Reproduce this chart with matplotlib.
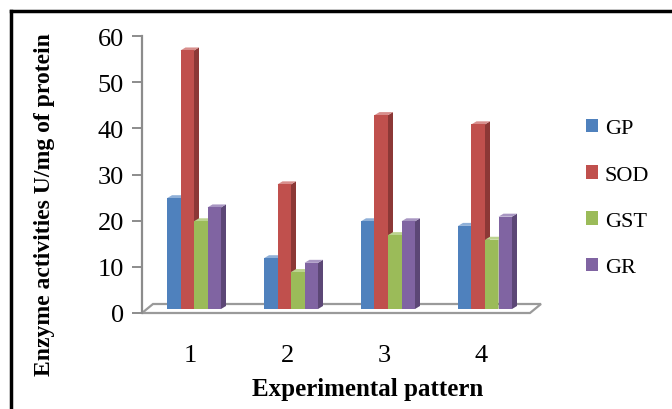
import matplotlib
matplotlib.use("Agg")
import matplotlib.pyplot as plt
from matplotlib.lines import Line2D
from matplotlib.patches import Patch

categories = ["1", "2", "3", "4"]
series = ["GP", "SOD", "GST", "GR"]
gp = [24, 11, 19, 18]
sod = [56, 27, 42, 40]
gst = [19, 8, 16, 15]
gr = [22, 10, 19, 20]
values = [gp, sod, gst, gr]

front = ["#4F81BD", "#C0504D", "#9BBB59", "#8064A2"]
side = ["#385D8A", "#8C3836", "#71893F", "#5C4776"]
top = ["#8FB0D8", "#D88E8C", "#BCD38F", "#A896C2"]

W, H = 672, 410
ax_l, ax_r, ax_b, ax_t = 142, 530, 314, 37
ymax = 60
px_x = (ax_r - ax_l) / len(categories)   # pixels per x unit
px_y = (ax_b - ax_t) / ymax               # pixels per y unit

plt.rcParams["font.family"] = ["Liberation Serif", "DejaVu Serif"]

fig = plt.figure(figsize=(W / 100, H / 100), dpi=100)
ax = fig.add_axes([ax_l / W, 1 - ax_b / H, (ax_r - ax_l) / W, (ax_b - ax_t) / H])
ax.set_xlim(0.5, len(categories) + 0.5)
ax.set_ylim(0, ymax)

# 3d-ish floor
fdx, fdy = 11 / px_x, 9 / px_y
ax.fill([0.5, 4.5, 4.5 + fdx, 0.5 + fdx], [0, 0, fdy, fdy], facecolor="white",
        edgecolor="#9a9a9a", lw=1.6, zorder=1, clip_on=False)

# bars with side and top faces
bw = 13.5 / px_x
bdx, bdy = 5 / px_x, 3 / px_y
xshift, base = 3.5 / px_x, 4 / px_y
pos = range(1, len(categories) + 1)
for j, vals in enumerate(values):
    xs = [p + xshift + (j - 1.5) * bw for p in pos]
    ax.bar(xs, vals, width=bw, bottom=base, color=front[j], zorder=3, clip_on=False)
    for x, v in zip(xs, vals):
        xl, xr, t = x - bw / 2, x + bw / 2, base + v
        ax.fill([xr, xr + bdx, xr + bdx, xr], [base, base + bdy, t + bdy, t],
                color=side[j], zorder=2, clip_on=False, lw=0)
        ax.fill([xl, xr, xr + bdx, xl + bdx], [t, t, t + bdy, t + bdy],
                color=top[j], zorder=2, clip_on=False, lw=0)

for s in ["top", "right", "bottom"]:
    ax.spines[s].set_visible(False)
ax.spines["left"].set_color("#8c8c8c")
ax.spines["left"].set_linewidth(1.6)

ax.set_yticks(range(0, 61, 10))
ax.tick_params(axis="y", length=7, width=1.4, color="#8c8c8c", labelsize=19, pad=6)
ax.set_xticks(list(pos))
ax.set_xticklabels(categories)
ax.tick_params(axis="x", length=0, labelsize=19, pad=22)

fig.text(45 / W, 1 - 205 / H, "Enzyme activities U/mg of protein", rotation=90,
         ha="center", va="center", fontsize=17, fontweight="bold")
fig.text(368 / W, 1 - 390 / H, "Experimental pattern", ha="center", va="center",
         fontsize=18, fontweight="bold")

handles = [Patch(facecolor=c, edgecolor="none") for c in front]
fig.legend(handles, series, loc="center left", bbox_to_anchor=(566 / W, 1 - 199 / H),
           frameon=False, fontsize=16, handlelength=0.55, handleheight=0.55,
           handletextpad=0.3, labelspacing=1.2)

# outer frame (left and top only)
fig.add_artist(Line2D([11 / W, 11 / W], [0, 1 - 12 / H], color="black", lw=2.5,
                      transform=fig.transFigure))
fig.add_artist(Line2D([11 / W, 1], [1 - 12 / H, 1 - 12 / H], color="black", lw=2.5,
                      transform=fig.transFigure))

fig.savefig("out.png", dpi=100)
